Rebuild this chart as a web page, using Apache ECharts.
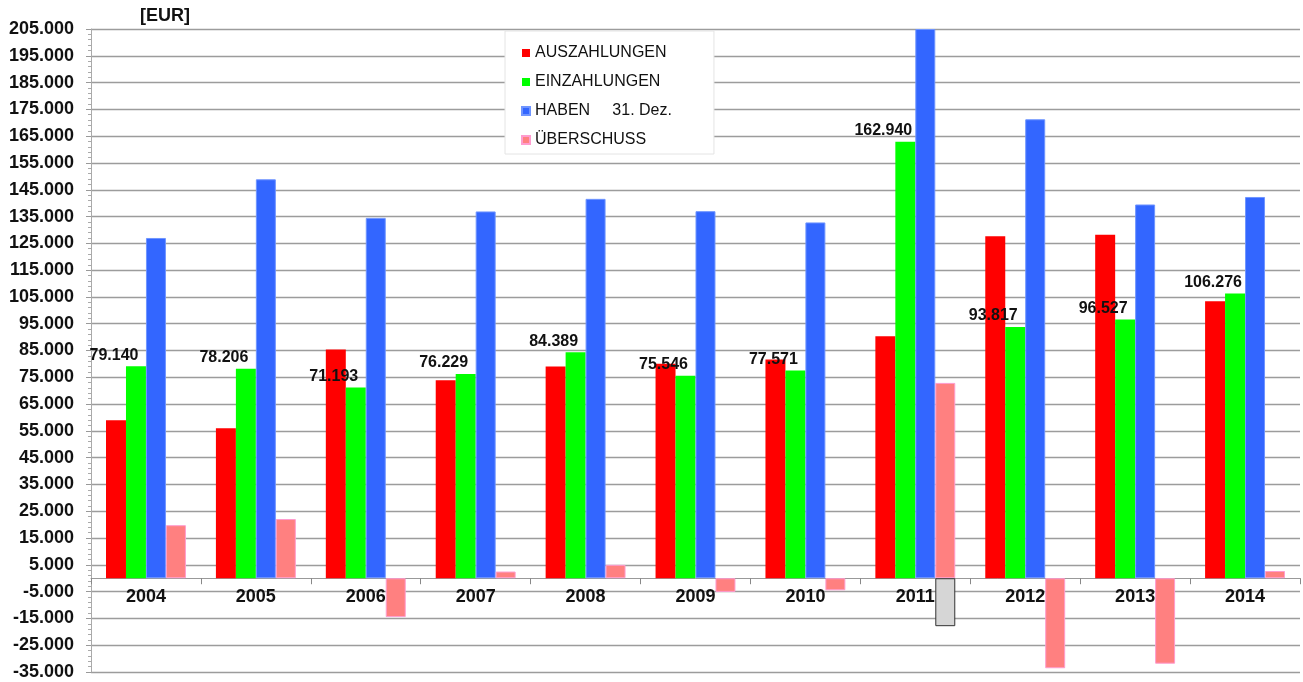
<!DOCTYPE html>
<html>
<head>
<meta charset="utf-8">
<script src="https://cdn.jsdelivr.net/npm/echarts@6/dist/echarts.min.js"></script>
<style>
html,body{margin:0;padding:0;background:#fff;}
#c{width:1303px;height:682px;}
</style>
</head>
<body>
<div id="c"></div>
<script>
const years = ['2004','2005','2006','2007','2008','2009','2010','2011','2012','2013','2014'];
const auszahlungen = [59000, 56000, 85400, 73900, 79000, 80100, 81600, 90300, 127600, 128200, 103400];
const einzahlungen = [79140, 78206, 71193, 76229, 84389, 75546, 77571, 162940, 93817, 96527, 106276];
const haben = [127000, 148900, 134500, 136900, 141600, 137000, 132800, 205000, 171300, 139500, 142300];
const ueberschuss = [19800, 22100, -14500, 2500, 5000, -5100, -4500, 72900, -33600, -31900, 2700];
const grauerKasten = ['-', '-', '-', '-', '-', '-', '-', -17900, '-', '-', '-'];
const legendNames = ['AUSZAHLUNGEN', 'EINZAHLUNGEN', 'HABEN     31. Dez.', '\u00DCBERSCHUSS'];
const yMin = -35000, yMax = 205000, yStep = 10000;

function fmt(v) {
  const s = Math.round(Math.abs(v)).toString().replace(/\B(?=(\d{3})+(?!\d))/g, '.');
  return (v < 0 ? '-' : '') + s;
}

const FONT = '"Liberation Sans", Arial, sans-serif';
const H = 682, GT = 29, GB = 10;
const plotH = H - GT - GB;
const zeroShift = plotH * (0 - yMin) / (yMax - yMin);

const chart = echarts.init(document.getElementById('c'), null, {renderer: 'canvas'});
chart.setOption({
  animation: false,
  backgroundColor: '#ffffff',
  textStyle: {fontFamily: FONT},
  title: {
    text: '[EUR]', left: 135, top: 2,
    textStyle: {fontSize: 18, fontWeight: 'bold', color: '#111', fontFamily: FONT}
  },
  legend: {
    data: legendNames,
    orient: 'vertical',
    left: 505, top: 31,
    padding: [14, 42, 6, 16],
    itemGap: 13,
    itemWidth: 8, itemHeight: 8,
    icon: 'rect',
    backgroundColor: '#ffffff',
    borderColor: '#e4e4e4', borderWidth: 1,
    textStyle: {fontSize: 16, color: '#111', fontFamily: FONT},
    selectedMode: false
  },
  grid: {left: 91, right: 3, top: GT, bottom: GB, containLabel: false, outerBoundsMode: 'none'},
  xAxis: {
    type: 'category',
    data: years,
    boundaryGap: true,
    position: 'bottom',
    offset: -zeroShift,
    axisLine: {show: true, onZero: false, lineStyle: {color: '#999', width: 1}},
    axisTick: {show: true, length: 6, lineStyle: {color: '#888'}},
    axisLabel: {fontSize: 18, fontWeight: 'bold', color: '#111', margin: 10, fontFamily: FONT},
    splitLine: {show: false}
  },
  yAxis: [
    {type: 'value', min: yMin, max: yMax, show: false, splitLine: {show: false}},
    {
      type: 'value', min: 0, max: yMax - yMin, interval: yStep, position: 'left',
      axisLine: {show: true, lineStyle: {color: '#aaa'}},
      axisTick: {show: true, length: 5, lineStyle: {color: '#999'}},
      minorTick: {show: true, splitNumber: 5, length: 3, lineStyle: {color: '#aaa'}},
      axisLabel: {
        fontSize: 18, fontWeight: 'bold', color: '#111', margin: 17, fontFamily: FONT,
        formatter: v => fmt(v + yMin)
      },
      splitLine: {show: true, lineStyle: {color: '#9c9c9c', width: 1.3}}
    }
  ],
  series: [
    {name: legendNames[0], type: 'bar', yAxisIndex: 0, data: auszahlungen,
     barGap: '0%', barCategoryGap: '27.3%', itemStyle: {color: '#ff0000'}},
    {name: legendNames[1], type: 'bar', yAxisIndex: 0, data: einzahlungen,
     itemStyle: {color: '#00ff00'},
     label: {show: true, position: 'top', offset: [-22, 2], fontSize: 16, fontWeight: 'bold',
             color: '#111', fontFamily: FONT, formatter: p => fmt(p.value)}},
    {name: legendNames[2], type: 'bar', yAxisIndex: 0, data: haben,
     itemStyle: {color: '#3366ff', borderColor: '#6f95ff', borderWidth: 1}},
    {name: legendNames[3], type: 'bar', yAxisIndex: 0, data: ueberschuss, stack: 'u',
     itemStyle: {color: '#ff8080', borderColor: '#ff9ccf', borderWidth: 1}},
    {name: 'box', type: 'bar', yAxisIndex: 0, data: grauerKasten, stack: 'u', silent: true,
     itemStyle: {color: '#d6d6d6', borderColor: '#333', borderWidth: 1}}
  ]
});
</script>
</body>
</html>
